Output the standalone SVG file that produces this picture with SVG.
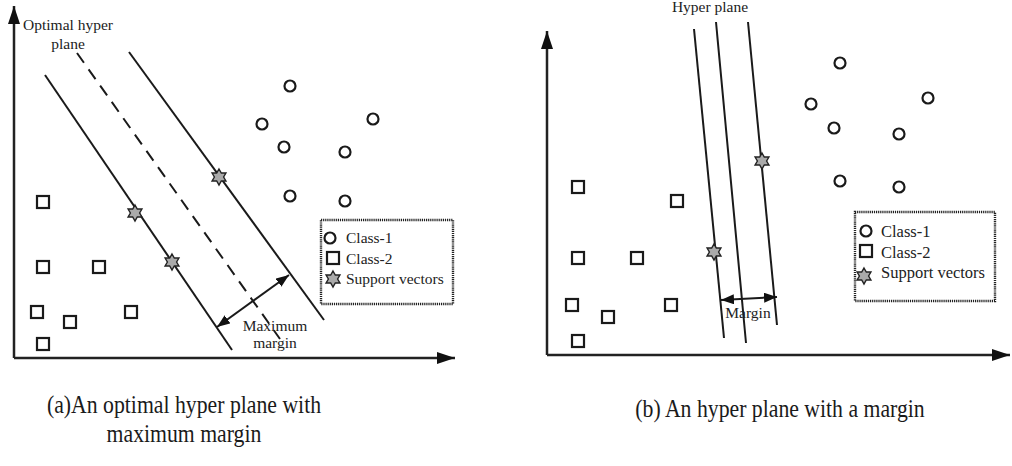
<svg xmlns="http://www.w3.org/2000/svg" xmlns:xlink="http://www.w3.org/1999/xlink" width="1012" height="466" viewBox="0 0 1012 466">
  <style>
    .axis { stroke: #222; stroke-width: 2.5; fill: none; }
    .plane { stroke: #1a1a1a; stroke-width: 2; fill: none; }
    .dash { stroke-dasharray: 12 8; }
    .c1 { fill: #fff; stroke: #1a1a1a; stroke-width: 2.2; }
    .c2 { fill: #fff; stroke: #1a1a1a; stroke-width: 2.2; }
    .sv { fill: #aaa; stroke: #222; stroke-width: 1.4; }
    .legend { fill: #fff; stroke: #222; stroke-width: 2.4; stroke-dasharray: 1.2 0.9; }
    .lbl { font-family: "Liberation Serif", "Times New Roman", serif; fill: #222; }
    .cap { font-family: "Liberation Serif", "Times New Roman", serif; fill: #1a1a1a; font-size: 25px; }
  </style>
  <defs>
    <marker id="axisHead" markerUnits="userSpaceOnUse" markerWidth="18" markerHeight="12" refX="18" refY="6" orient="auto">
      <path d="M0,0 L18,6 L0,12 z" fill="#111"/>
    </marker>
    <marker id="dimHead" markerUnits="userSpaceOnUse" markerWidth="13" markerHeight="10" refX="13" refY="5" orient="auto-start-reverse">
      <path d="M0,0 L13,5 L0,10 z" fill="#111"/>
    </marker>
    <polygon id="star" class="sv" points="0,-8 2.31,-4 6.93,-4 4.62,0 6.93,4 2.31,4 0,8 -2.31,4 -6.93,4 -4.62,0 -6.93,-4 -2.31,-4"/>
    <circle id="dot" class="c1" r="5.5"/>
    <rect id="box" class="c2" x="-6" y="-6" width="12" height="12"/>
  </defs>

  <!-- Panel (a): optimal hyper plane with maximum margin -->
  <g id="panel-a">
    <g id="axes-a">
      <line class="axis" x1="14" y1="358" x2="14" y2="6" marker-end="url(#axisHead)"/>
      <line class="axis" x1="14" y1="358" x2="455" y2="358" marker-end="url(#axisHead)"/>
    </g>
    <g id="connectors-a">
      <line class="plane" x1="45" y1="75" x2="232" y2="350"/>
      <line class="plane dash" x1="77" y1="53" x2="280" y2="339"/>
      <line class="plane" x1="129" y1="52" x2="324" y2="320"/>
      <line class="plane" x1="217" y1="327" x2="289" y2="275" marker-start="url(#dimHead)" marker-end="url(#dimHead)"/>
    </g>
    <g id="class1-a">
      <use xlink:href="#dot" x="290" y="86"/>
      <use xlink:href="#dot" x="262" y="124"/>
      <use xlink:href="#dot" x="284" y="147"/>
      <use xlink:href="#dot" x="373" y="119"/>
      <use xlink:href="#dot" x="345" y="152"/>
      <use xlink:href="#dot" x="290" y="196"/>
      <use xlink:href="#dot" x="345" y="201"/>
    </g>
    <g id="class2-a">
      <use xlink:href="#box" x="43" y="202"/>
      <use xlink:href="#box" x="43" y="267"/>
      <use xlink:href="#box" x="99" y="267"/>
      <use xlink:href="#box" x="37" y="312"/>
      <use xlink:href="#box" x="70" y="322"/>
      <use xlink:href="#box" x="131" y="312"/>
      <use xlink:href="#box" x="43" y="344"/>
    </g>
    <g id="support-a">
      <use xlink:href="#star" x="219" y="177"/>
      <use xlink:href="#star" x="135" y="213"/>
      <use xlink:href="#star" x="172" y="262"/>
    </g>
    <g id="labels-a" class="lbl" font-size="15.5" text-anchor="middle">
      <text x="68" y="30">Optimal hyper</text>
      <text x="68" y="49">plane</text>
      <text x="275" y="331">Maximum</text>
      <text x="275" y="348">margin</text>
    </g>
    <g id="legend-a">
      <rect class="legend" x="321" y="220" width="132" height="84"/>
      <use xlink:href="#dot" x="330" y="238"/>
      <use xlink:href="#box" x="333" y="258"/>
      <use xlink:href="#star" x="333" y="279"/>
      <g class="lbl" font-size="15.5">
        <text x="346" y="243">Class-1</text>
        <text x="346" y="264">Class-2</text>
        <text x="346" y="284">Support vectors</text>
      </g>
    </g>
    <g id="caption-a" class="cap" text-anchor="middle" transform="translate(184,413) scale(0.87,1)">
      <text x="0" y="0">(a)An optimal hyper plane with</text>
      <text x="0" y="29">maximum margin</text>
    </g>
  </g>

  <!-- Panel (b): hyper plane with a margin -->
  <g id="panel-b">
    <g id="axes-b">
      <line class="axis" x1="547" y1="355" x2="547" y2="31" marker-end="url(#axisHead)"/>
      <line class="axis" x1="547" y1="355" x2="1010" y2="355" marker-end="url(#axisHead)"/>
    </g>
    <g id="connectors-b">
      <line class="plane" x1="694" y1="29" x2="724" y2="338"/>
      <line class="plane" x1="716" y1="22" x2="746" y2="343"/>
      <line class="plane" x1="748" y1="22" x2="777" y2="325"/>
      <line class="plane" x1="721" y1="300" x2="777" y2="297" marker-start="url(#dimHead)" marker-end="url(#dimHead)"/>
    </g>
    <g id="class1-b">
      <use xlink:href="#dot" x="840" y="63"/>
      <use xlink:href="#dot" x="811" y="104"/>
      <use xlink:href="#dot" x="928" y="98"/>
      <use xlink:href="#dot" x="834" y="128"/>
      <use xlink:href="#dot" x="899" y="134"/>
      <use xlink:href="#dot" x="840" y="181"/>
      <use xlink:href="#dot" x="899" y="187"/>
    </g>
    <g id="class2-b">
      <use xlink:href="#box" x="578" y="187"/>
      <use xlink:href="#box" x="677" y="201"/>
      <use xlink:href="#box" x="578" y="258"/>
      <use xlink:href="#box" x="637" y="258"/>
      <use xlink:href="#box" x="572" y="305"/>
      <use xlink:href="#box" x="608" y="317"/>
      <use xlink:href="#box" x="671" y="305"/>
      <use xlink:href="#box" x="578" y="341"/>
    </g>
    <g id="support-b">
      <use xlink:href="#star" x="762" y="161"/>
      <use xlink:href="#star" x="714" y="252"/>
    </g>
    <g id="labels-b" class="lbl" font-size="15.5" text-anchor="middle">
      <text x="710" y="12">Hyper plane</text>
      <text x="748" y="318">Margin</text>
    </g>
    <g id="legend-b">
      <rect class="legend" x="855" y="212" width="140" height="89"/>
      <use xlink:href="#dot" x="866" y="231"/>
      <use xlink:href="#box" x="866" y="251"/>
      <use xlink:href="#star" x="864" y="276"/>
      <g class="lbl" font-size="16.5">
        <text x="881" y="237">Class-1</text>
        <text x="881" y="258">Class-2</text>
        <text x="881" y="278">Support vectors</text>
      </g>
    </g>
    <g id="caption-b" class="cap" text-anchor="middle" transform="translate(780,417) scale(0.87,1)">
      <text x="0" y="0">(b) An hyper plane with a margin</text>
    </g>
  </g>
</svg>
